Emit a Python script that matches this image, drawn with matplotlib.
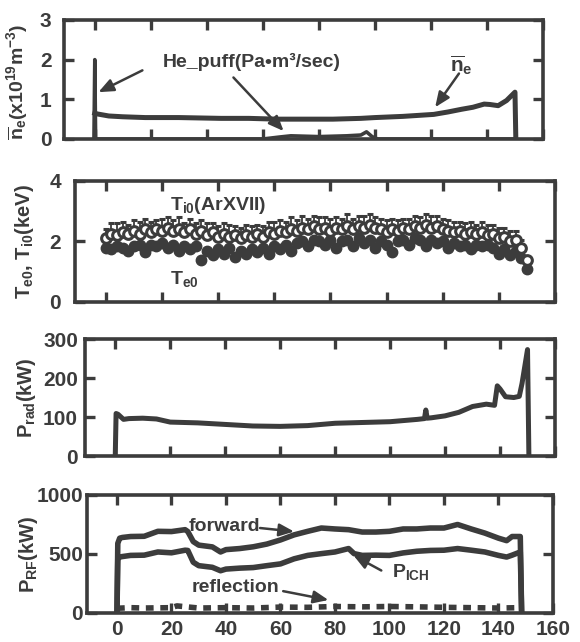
import numpy as np
import matplotlib
matplotlib.use("Agg")
import matplotlib.pyplot as plt

plt.rcParams['font.family'] = ['Liberation Sans', 'DejaVu Sans']
plt.rcParams['font.weight'] = 'bold'
plt.rcParams['axes.labelweight'] = 'bold'
plt.rcParams['mathtext.fontset'] = 'custom'
plt.rcParams['mathtext.rm'] = 'Liberation Sans:bold'
plt.rcParams['mathtext.bf'] = 'Liberation Sans:bold'
plt.rcParams['mathtext.it'] = 'Liberation Sans:bold'
plt.rcParams['mathtext.default'] = 'bf'

C = '#3c3c3c'

# ---- panel 1: line-averaged density and He puff ----
ne_t = [0, 1, 5, 10, 18, 30, 45, 55, 65, 75, 85, 95, 100, 110, 121, 126, 131, 135, 139, 141, 144, 147, 150, 150.3]
ne_v = [0.65, 0.63, 0.58, 0.56, 0.54, 0.54, 0.52, 0.52, 0.50, 0.50, 0.50, 0.52, 0.54, 0.57, 0.62, 0.68, 0.75, 0.80, 0.88, 0.87, 0.84, 0.97, 1.18, 0.0]
he_t = [-0.3, 0, 0.3, 60, 66, 70, 80, 90, 95, 97, 99, 101, 150]
he_v = [0, 2.0, 0, 0, 0.05, 0.08, 0.06, 0.08, 0.10, 0.18, 0.06, 0.0, 0.0]

# ---- panel 2: central temperatures ----
ti_t = list(range(0, 151, 2))
ti_v = [2.1, 2.25, 2.2, 2.3, 2.25, 2.35, 2.25, 2.4, 2.3, 2.4,
        2.35, 2.45, 2.35, 2.4, 2.3, 2.4, 2.25, 2.35, 2.2, 2.3,
        2.15, 2.25, 2.15, 2.2, 2.1, 2.2, 2.15, 2.25, 2.15, 2.3,
        2.25, 2.35, 2.3, 2.4, 2.35, 2.45, 2.4, 2.5, 2.4, 2.45,
        2.35, 2.45, 2.4, 2.5, 2.4, 2.5, 2.45, 2.55, 2.45, 2.4,
        2.3, 2.4, 2.35, 2.45, 2.4, 2.5, 2.45, 2.55, 2.45, 2.5,
        2.4, 2.35, 2.3, 2.35, 2.25, 2.3, 2.25, 2.3, 2.2, 2.25,
        2.1, 2.15, 2.0, 2.05, 1.8, 1.4]
ti_err = [0.3, 0.35, 0.4, 0.35, 0.3, 0.35, 0.4, 0.35, 0.35, 0.3,
          0.4, 0.35, 0.35, 0.4, 0.3, 0.35, 0.35, 0.35, 0.4, 0.3,
          0.35, 0.35, 0.4, 0.3, 0.35, 0.35, 0.35, 0.3, 0.35, 0.35,
          0.4, 0.35, 0.35, 0.4, 0.35, 0.4, 0.35, 0.35, 0.4, 0.35,
          0.4, 0.35, 0.35, 0.4, 0.35, 0.35, 0.4, 0.35, 0.35, 0.35,
          0.4, 0.35, 0.35, 0.3, 0.35, 0.35, 0.35, 0.35, 0.4, 0.35,
          0.35, 0.35, 0.35, 0.3, 0.35, 0.35, 0.3, 0.35, 0.35, 0.3,
          0.35, 0.3, 0.35, 0.3, 0.25, 0.0]
te_v = [1.8, 1.75, 1.85, 1.8, 1.7, 1.85, 1.9, 1.65, 1.9, 1.85,
        1.95, 1.8, 1.9, 1.7, 1.85, 1.75, 1.85, 1.4, 1.7, 1.55,
        1.75, 1.6, 1.8, 1.5, 1.7, 1.6, 1.75, 1.65, 1.8, 1.6,
        1.85, 1.75, 1.9, 1.7, 1.95, 2.0, 1.85, 2.05, 2.0, 1.9,
        2.05, 1.8, 2.0, 2.05, 1.85, 2.1, 1.95, 2.05, 1.8, 2.0,
        1.9, 1.65, 2.0, 2.05, 1.9, 2.1, 2.05, 1.85, 2.05, 1.95,
        2.0, 1.8, 1.95, 1.85, 1.9, 1.75, 1.9, 1.85, 1.9, 1.8,
        1.6, 1.75, 1.55, 1.7, 1.45, 1.1]

# ---- panel 3: radiated power ----
prad_t = [0, 0.3, 1, 3, 5, 10, 15, 20, 30, 40, 50, 60, 70, 80, 90, 100, 110, 112.5, 113, 113.5, 115,
          120, 125, 130, 135, 138, 139, 140, 142, 145, 147, 148, 150, 150.5]
prad_v = [0, 109, 107, 94, 96, 97, 95, 87, 85, 81, 77, 76, 78, 84, 86, 88, 94, 96, 118, 97, 98,
          103, 112, 127, 133, 130, 180, 172, 152, 150, 153, 186, 273, 0]

# ---- panel 4: RF power ----
fwd_t = [0, 0.3, 1, 2, 5, 10, 15, 20, 25, 26, 28, 30, 35, 38, 40, 45, 50, 55, 60, 65, 70, 75,
         80, 85, 90, 95, 100, 105, 110, 115, 120, 125, 130, 135, 140, 143, 145, 148, 148.5]
fwd_v = [0, 590, 634, 640, 648, 650, 692, 690, 706, 690, 605, 575, 560, 517, 537, 546, 561, 584,
         619, 662, 692, 720, 712, 706, 686, 686, 692, 712, 712, 720, 720, 750, 712, 677, 634, 613,
         648, 648, 0]
ich_t = [0, 0.3, 1, 5, 10, 15, 20, 25, 26, 28, 30, 35, 38, 40, 45, 50, 55, 60, 65, 70, 75, 80,
         85, 87, 90, 95, 100, 105, 110, 115, 120, 125, 130, 135, 140, 143, 145, 148, 148.5]
ich_v = [0, 460, 475, 488, 490, 517, 510, 532, 530, 430, 401, 387, 358, 372, 380, 385, 401, 416,
         459, 488, 503, 517, 546, 503, 488, 490, 488, 509, 523, 530, 532, 546, 532, 517, 488, 474,
         490, 517, 0]
ref_t = [0, 5, 10, 20, 22, 30, 40, 50, 60, 70, 80, 90, 100, 110, 120, 130, 140, 148]
ref_v = [40, 45, 42, 45, 60, 42, 45, 42, 50, 48, 55, 52, 55, 52, 48, 45, 42, 45]

XTICKS = [0, 20, 40, 60, 80, 100, 120, 140, 160]

fig = plt.figure(figsize=(5.8, 6.42), dpi=100)
rects = [[0.1103, 0.7835, 0.8259, 0.1854],
         [0.1293, 0.5296, 0.8276, 0.1885],
         [0.1466, 0.2897, 0.8103, 0.1822],
         [0.1500, 0.0452, 0.8034, 0.1838]]
axes = [fig.add_axes(r) for r in rects]

ylims = [(0, 3), (0, 4), (0, 300), (0, 1000)]
yticks = [[0, 1, 2, 3], [0, 2, 4], [0, 100, 200, 300], [0, 500, 1000]]
ypads = [9, 10, 5, 3]
for ax, yl, yt, pad in zip(axes, ylims, yticks, ypads):
    ax.set_xlim(-11, 160)
    ax.set_ylim(*yl)
    ax.set_xticks(XTICKS)
    ax.set_yticks(yt)
    for s in ax.spines.values():
        s.set_linewidth(2.6)
        s.set_color(C)
    ax.tick_params(direction='in', length=7, width=2.4, color=C, top=True, right=True,
                   labelsize=15, labelcolor=C)
    ax.tick_params(axis='y', pad=pad)
    ax.tick_params(axis='x', pad=5)
for ax in axes[:3]:
    ax.tick_params(labelbottom=False)

arrow = dict(arrowstyle='-|>,head_length=0.9,head_width=0.38', lw=1.8, color=C, shrinkA=0, shrinkB=0)

# panel 1
ax = axes[0]
ax.plot(he_t, he_v, color=C, lw=2.6)
ax.plot(ne_t, ne_v, color=C, lw=3.6)
ax.text(56, 1.95, 'He_puff(Pa\u2022m\u00b3/sec)', ha='center', va='center', fontsize=14, color=C)
ax.annotate('', xy=(1.3, 1.18), xytext=(17, 1.73), arrowprops=arrow)
ax.annotate('', xy=(67.4, 0.2), xytext=(49.5, 1.55), arrowprops=arrow)
ax.text(131, 1.85, r'$\overline{n}_e$', ha='center', va='center', fontsize=15, color=C)
ax.annotate('', xy=(121.5, 0.8), xytext=(130, 1.65), arrowprops=arrow)
ax.set_ylabel(r'$\overline{n}_e$(x10$^{19}$m$^{-3}$)', fontsize=14, color=C)
ax.yaxis.set_label_coords(-0.07, 0.48)

# panel 2
ax = axes[1]
ax.plot(ti_t, te_v, 'o', ms=7.5, color=C, mec=C)
ax.errorbar(ti_t, ti_v, yerr=[np.zeros(len(ti_err)), ti_err], fmt='o', ms=7, mfc='white', mec=C,
            mew=2.2, ecolor=C, elinewidth=1.3, capsize=2.5, capthick=1.3)
ax.text(40, 3.2, r'T$_{i0}$(ArXVII)', ha='center', va='center', fontsize=14, color=C)
ax.text(28, 0.75, r'T$_{e0}$', ha='center', va='center', fontsize=14, color=C)
ax.set_ylabel(r'T$_{e0}$, T$_{i0}$(keV)', fontsize=14.5, color=C)
ax.yaxis.set_label_coords(-0.082, 0.5)

# panel 3
ax = axes[2]
ax.plot(prad_t, prad_v, color=C, lw=3.6)
ax.set_ylabel(r'P$_{rad}$(kW)', fontsize=14.5, color=C)
ax.yaxis.set_label_coords(-0.1, 0.5)

# panel 4
ax = axes[3]
ax.plot(fwd_t, fwd_v, color=C, lw=4)
ax.plot(ich_t, ich_v, color=C, lw=4)
ax.plot(ref_t, ref_v, color=C, lw=4, ls=(0, (1.4, 1.2)))
ax.text(39.5, 735, 'forward', ha='center', va='center', fontsize=14, color=C)
ax.annotate('', xy=(65, 690), xytext=(52.5, 720), arrowprops=arrow)
ax.text(108, 345, r'P$_{ICH}$', ha='center', va='center', fontsize=14, color=C)
ax.annotate('', xy=(86.8, 488), xytext=(97, 360), arrowprops=arrow)
ax.text(43.5, 215, 'reflection', ha='center', va='center', fontsize=14, color=C)
ax.annotate('', xy=(77.6, 110), xytext=(61, 185), arrowprops=arrow)
ax.set_ylabel(r'P$_{RF}$(kW)', fontsize=14.5, color=C)
ax.yaxis.set_label_coords(-0.1, 0.5)

fig.savefig('out.png', dpi=100)
